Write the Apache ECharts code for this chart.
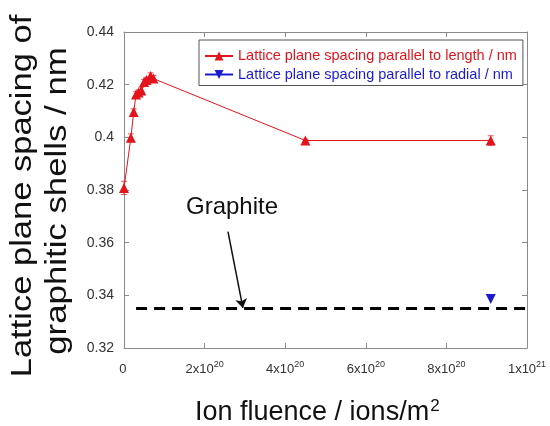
<!DOCTYPE html>
<html>
<head>
<meta charset="utf-8">
<script src="https://cdn.jsdelivr.net/npm/echarts@6/dist/echarts.min.js"></script>
<style>
  html, body { margin: 0; padding: 0; background: #fff; }
  #chart { width: 550px; height: 426px; }
</style>
</head>
<body>
<div id="chart"></div>
<script>
// 数据
var fluence = [0, 1.7e19, 2.4e19, 3.0e19, 3.6e19, 4.3e19, 5.0e19, 5.6e19, 6.6e19, 7.3e19, 4.5e20, 9.1e20];
var spacingLength = [0.3808, 0.3998, 0.4096, 0.4163, 0.4170, 0.4178, 0.4210, 0.4218, 0.4233, 0.4223, 0.3988, 0.3988];
var spacingErr = [0.0025, 0.0015, 0.0012, 0.0010, 0.0010, 0.0012, 0.0010, 0.0010, 0.0012, 0.0012, 0.0005, 0.0018];
var radialX = [9.1e20];
var radialY = [0.3386];
var graphiteX = [3e19, 1e21];
var graphiteY = [0.335, 0.335];
var arrowFrom = [2.58e20, 0.3642];
var arrowTo = [2.95e20, 0.3352];
var xTicks = ['0{s| }', '2x10{s|20}', '4x10{s|20}', '6x10{s|20}', '8x10{s|20}', '1x10{s|21}'];
var legendNames = ['Lattice plane spacing parallel to length / nm', 'Lattice plane spacing parallel to radial / nm'];

var red = '#e3141b';
var blue = '#1a1ad0';
var axisGray = '#8a8a8a';

(function () {
    var myChart = echarts.init(document.getElementById('chart'));

    var lenData = [];
    var errData = [];
    for (var i = 0; i < fluence.length; i++) {
        lenData.push([fluence[i], spacingLength[i]]);
        errData.push([fluence[i], spacingLength[i] - spacingErr[i], spacingLength[i] + spacingErr[i]]);
    }
    var radialData = [];
    for (var j = 0; j < radialX.length; j++) {
        radialData.push([radialX[j], radialY[j]]);
    }
    var graphiteData = [];
    for (var k = 0; k < graphiteX.length; k++) {
        graphiteData.push([graphiteX[k], graphiteY[k]]);
    }

    function renderErr(params, api) {
        var lo = api.coord([api.value(0), api.value(1)]);
        var hi = api.coord([api.value(0), api.value(2)]);
        var w = 3;
        var st = { stroke: red, lineWidth: 1, opacity: 0.7 };
        return {
            type: 'group',
            children: [
                { type: 'line', shape: { x1: lo[0], y1: lo[1], x2: hi[0], y2: hi[1] }, style: st },
                { type: 'line', shape: { x1: lo[0] - w, y1: lo[1], x2: lo[0] + w, y2: lo[1] }, style: st },
                { type: 'line', shape: { x1: hi[0] - w, y1: hi[1], x2: hi[0] + w, y2: hi[1] }, style: st }
            ]
        };
    }

    var option = {
        backgroundColor: '#fff',
        animation: false,
        grid: { left: 124, top: 32, width: 403, height: 316 },
        legend: {
            data: legendNames,
            orient: 'vertical',
            left: 199,
            top: 40,
            width: 321,
            padding: [8, 6, 3, 5],
            itemGap: 2.5,
            itemWidth: 28,
            itemHeight: 11,
            borderColor: '#555',
            borderWidth: 1,
            backgroundColor: '#fff',
            textStyle: { fontFamily: 'Liberation Sans', fontSize: 14.5, lineHeight: 16 }
        },
        xAxis: [
            {
                type: 'value',
                min: 0,
                max: 1e21,
                interval: 2e20,
                splitLine: { show: false },
                axisLine: { onZero: false, lineStyle: { color: axisGray } },
                axisTick: { inside: true, length: 5, lineStyle: { color: axisGray } },
                axisLabel: {
                    margin: 12,
                    fontFamily: 'Liberation Sans',
                    fontSize: 13,
                    color: '#333',
                    formatter: function (v, idx) { return xTicks[idx]; },
                    rich: { s: { fontFamily: 'Liberation Sans', fontSize: 9, color: '#333', padding: [0, 0, 9, 0] } }
                }
            },
            {
                type: 'value',
                position: 'top',
                min: 0,
                max: 1e21,
                interval: 2e20,
                splitLine: { show: false },
                axisLine: { onZero: false, lineStyle: { color: axisGray } },
                axisTick: { inside: true, length: 5, lineStyle: { color: axisGray } },
                axisLabel: { show: false }
            }
        ],
        yAxis: [
            {
                type: 'value',
                min: 0.32,
                max: 0.44,
                interval: 0.02,
                splitLine: { show: false },
                axisLine: { show: true, onZero: false, lineStyle: { color: axisGray } },
                axisTick: { show: true, inside: true, length: 5, lineStyle: { color: axisGray } },
                axisLabel: {
                    margin: 10,
                    fontFamily: 'Liberation Sans',
                    fontSize: 14,
                    color: '#333',
                    formatter: function (v) { return String(parseFloat(v.toFixed(2))); }
                }
            },
            {
                type: 'value',
                position: 'right',
                min: 0.32,
                max: 0.44,
                interval: 0.02,
                splitLine: { show: false },
                axisLine: { show: true, onZero: false, lineStyle: { color: axisGray } },
                axisTick: { show: true, inside: true, length: 5, lineStyle: { color: axisGray } },
                axisLabel: { show: false }
            }
        ],
        graphic: [
            {
                type: 'text',
                x: 23,
                y: 196,
                rotation: Math.PI / 2,
                scaleX: 1.15,
                style: {
                    text: 'Lattice plane spacing of',
                    font: '30px "Liberation Sans"',
                    fill: '#111',
                    align: 'center',
                    verticalAlign: 'middle'
                }
            },
            {
                type: 'text',
                x: 58,
                y: 201,
                rotation: Math.PI / 2,
                scaleX: 1.16,
                style: {
                    text: 'graphitic shells / nm',
                    font: '30px "Liberation Sans"',
                    fill: '#111',
                    align: 'center',
                    verticalAlign: 'middle'
                }
            },
            {
                type: 'text',
                x: 195,
                y: 413,
                style: {
                    text: 'Ion fluence / ions/m{s|2}',
                    font: '27px "Liberation Sans"',
                    fill: '#111',
                    align: 'left',
                    verticalAlign: 'middle',
                    rich: { s: { font: '17px "Liberation Sans"', fill: '#111', padding: [0, 0, 13, 1] } }
                }
            },
            {
                type: 'text',
                x: 186,
                y: 207,
                style: {
                    text: 'Graphite',
                    font: '24px "Liberation Sans"',
                    fill: '#111',
                    align: 'left',
                    verticalAlign: 'middle'
                }
            }
        ],
        series: [
            {
                name: 'graphite',
                type: 'line',
                data: graphiteData,
                symbol: 'none',
                silent: true,
                lineStyle: { color: '#000', width: 3, type: [11, 7] },
                z: 1
            },
            {
                name: 'arrow',
                type: 'lines',
                coordinateSystem: 'cartesian2d',
                symbol: ['none', 'arrow'],
                symbolSize: 9,
                silent: true,
                lineStyle: { color: '#111', width: 1.5, opacity: 1 },
                data: [{ coords: [arrowFrom, arrowTo] }],
                z: 3
            },
            {
                name: 'err',
                type: 'custom',
                renderItem: renderErr,
                data: errData,
                silent: true,
                z: 2
            },
            {
                name: legendNames[0],
                type: 'line',
                data: lenData,
                color: red,
                symbol: 'triangle',
                symbolSize: 10,
                lineStyle: { width: 1, color: red },
                itemStyle: { color: red },
                z: 4
            },
            {
                name: legendNames[1],
                type: 'line',
                data: radialData,
                color: blue,
                symbol: 'triangle',
                symbolRotate: 180,
                symbolSize: 10,
                lineStyle: { width: 1, color: blue },
                itemStyle: { color: blue },
                z: 4
            }
        ]
    };

    myChart.setOption(option);
    // 图例文字颜色跟随系列
    myChart.setOption({
        legend: {
            data: [
                { name: legendNames[0], textStyle: { color: red } },
                { name: legendNames[1], textStyle: { color: blue } }
            ]
        }
    });
})();
</script>
</body>
</html>
